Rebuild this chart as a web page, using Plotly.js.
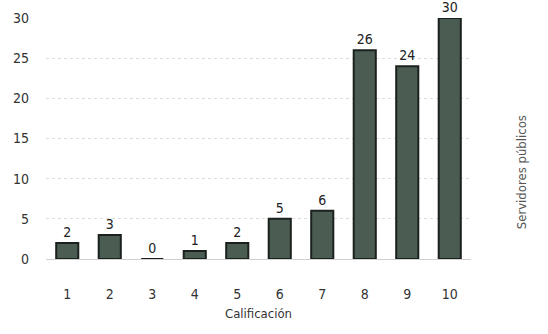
<!DOCTYPE html>
<html><head><meta charset="utf-8">
<script src="https://cdn.plot.ly/plotly-3.0.1.min.js"></script>
<style>html,body{margin:0;padding:0;background:#fff}</style>
</head><body><div id="chart" style="width:548px;height:334px"></div>
<script>
const categories = ["1","2","3","4","5","6","7","8","9","10"];
const values = [2,3,0,1,2,5,6,26,24,30];
const yTicks = [0,5,10,15,20,25,30];
const yTickLabels = ["0","5","10","15","20","25","30"];
const xTitle = "Calificación";
const yTitle = "Servidores públicos";

const font = "Liberation Sans Narrow, DejaVu Sans Condensed, Arial Narrow, sans-serif";
Plotly.newPlot("chart", [{
  type: "bar",
  x: categories,
  y: values,
  width: 0.52,
  marker: {color: "#4b5d53", line: {color: "#1b211d", width: 2}},
  text: values.map(String),
  textposition: "outside",
  cliponaxis: false,
  textfont: {family: font, size: 14, color: "#222"},
  hoverinfo: "skip"
}], {
  width: 548, height: 334,
  margin: {l: 46, r: 77, t: 18, b: 75},
  paper_bgcolor: "#fff", plot_bgcolor: "#fff",
  showlegend: false,
  xaxis: {
    type: "category", range: [-0.5, 9.5],
    showgrid: false, showline: true, linecolor: "#d0d0d0", linewidth: 1,
    ticks: "", ticklabelstandoff: 22,
    tickfont: {family: font, size: 14, color: "#333"},
    title: {text: xTitle, font: {family: font, size: 13, color: "#333"}, standoff: 8}
  },
  yaxis: {
    range: [0, 30], tickvals: yTicks, ticktext: yTickLabels,
    showgrid: true, gridcolor: "#dcdcdc", griddash: "dot", gridwidth: 1,
    zeroline: false, showline: false, ticks: "", ticklabelstandoff: 16,
    tickfont: {family: font, size: 14, color: "#333"}
  },
  annotations: [{
    text: yTitle, xref: "paper", yref: "paper", x: 1.14, y: 0.36,
    textangle: -90, showarrow: false,
    font: {family: font, size: 13, color: "#555"}
  }]
}, {staticPlot: true});
</script></body></html>
